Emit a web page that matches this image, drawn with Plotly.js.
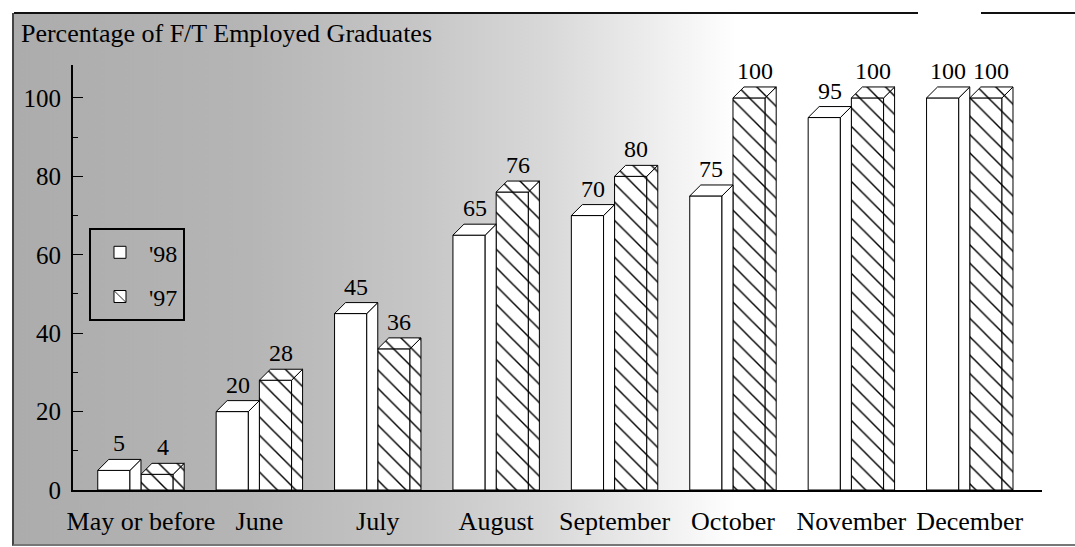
<!DOCTYPE html>
<html>
<head>
<meta charset="utf-8">
<script src="https://cdn.plot.ly/plotly-3.0.1.min.js"></script>
<style>
  html, body { margin: 0; padding: 0; background: #ffffff; }
  #wrap { position: relative; width: 1075px; height: 547px; overflow: hidden; }
  #bg {
    position: absolute; left: 12px; top: 13px; width: 1063px; height: 531px;
    background:
      linear-gradient(to right, #acacac 0%, #b5b5b5 22%, #c6c6c6 38%, #d8d8d8 50%, #ededed 60%, #ffffff 68%, #ffffff 100%);
    border-left: 2px solid #444;
    border-bottom: 2px solid #777;
  }
  #topline { position: absolute; left: 14px; top: 12px; width: 904px; height: 2px; background: #111; }
  #topline2 { position: absolute; left: 981px; top: 12px; width: 94px; height: 2px; background: #111; }
  #chart { position: absolute; left: 0; top: 0; width: 1075px; height: 547px; }
</style>
</head>
<body>
<div id="wrap">
  <div id="bg"></div>
  <div id="topline"></div>
  <div id="topline2"></div>
  <div id="chart"></div>
</div>
<script>
// ---- data ----
const categories = ['May or before', 'June', 'July', 'August', 'September', 'October', 'November', 'December'];
const values98 = [5, 20, 45, 65, 70, 75, 95, 100];
const values97 = [4, 28, 36, 76, 80, 100, 100, 100];
const seriesNames = ["'98", "'97"];
const yTicks = [0, 20, 40, 60, 80, 100];

// ---- geometry (data units) ----
const idx = categories.map((_, i) => i);
const W = 0.272;          // bar front width
const OFF98 = -0.365;     // offset of '98 bar
const OFF97 = 0.0;        // offset of '97 bar
const DX = 0.093;         // depth in x
const DY = 2.8;           // depth in y

const FONT = 'Liberation Serif, Times New Roman, serif';
const hatch = { shape: '\\', fgcolor: '#000000', bgcolor: '#ffffff', size: 13, solidity: 0.11 };

function faces(vals, off) {
  const sx = [], sy = [], tx = [], ty = [];
  vals.forEach((v, i) => {
    const x0 = i + off, x1 = i + off + W;
    sx.push(x1, x1, x1 + DX, x1 + DX, x1, null);
    sy.push(0, v, v + DY, 0, 0, null);
    tx.push(x0, x0 + DX, x1 + DX, x1, x0, null);
    ty.push(v, v + DY, v + DY, v, v, null);
  });
  return { sx, sy, tx, ty };
}

const f98 = faces(values98, OFF98);
const f97 = faces(values97, OFF97);

const lineStyle = { color: '#000000', width: 1 };

const traces = [
  {
    type: 'bar', name: seriesNames[0], x: idx, y: values98, width: W, offset: OFF98,
    marker: { color: '#ffffff', line: lineStyle }, hoverinfo: 'skip', legendgroup: 'a'
  },
  {
    type: 'bar', name: seriesNames[1], x: idx, y: values97, width: W, offset: OFF97,
    marker: { color: '#ffffff', pattern: hatch, line: lineStyle }, hoverinfo: 'skip', legendgroup: 'b'
  },
  { type: 'scatter', mode: 'lines', x: f98.sx, y: f98.sy, fill: 'toself', fillcolor: '#ffffff',
    line: lineStyle, showlegend: false, hoverinfo: 'skip' },
  { type: 'scatter', mode: 'lines', x: f98.tx, y: f98.ty, fill: 'toself', fillcolor: '#ffffff',
    line: lineStyle, showlegend: false, hoverinfo: 'skip' },
  { type: 'scatter', mode: 'lines', x: f97.sx, y: f97.sy, fill: 'toself', fillcolor: '#ffffff',
    fillpattern: hatch, line: lineStyle, showlegend: false, hoverinfo: 'skip' },
  { type: 'scatter', mode: 'lines', x: f97.tx, y: f97.ty, fill: 'toself', fillcolor: '#ffffff',
    fillpattern: hatch, line: lineStyle, showlegend: false, hoverinfo: 'skip' }
];

const annotations = [];
values98.forEach((v, i) => {
  annotations.push({ x: i + OFF98 + (W + DX) / 2, y: v, xref: 'x', yref: 'y', text: String(v),
    showarrow: false, yanchor: 'bottom', yshift: 12, font: { family: FONT, size: 24, color: '#000' } });
});
values97.forEach((v, i) => {
  annotations.push({ x: i + OFF97 + (W + DX) / 2, y: v, xref: 'x', yref: 'y', text: String(v),
    showarrow: false, yanchor: 'bottom', yshift: 12, font: { family: FONT, size: 24, color: '#000' } });
});

const layout = {
  width: 1075, height: 547,
  paper_bgcolor: 'rgba(0,0,0,0)', plot_bgcolor: 'rgba(0,0,0,0)',
  margin: { l: 73, r: 33, t: 65, b: 57 },
  barmode: 'overlay',
  font: { family: FONT, color: '#000' },
  title: { text: 'Percentage of F/T Employed Graduates', xref: 'container', yref: 'container',
    x: 0.0195, xanchor: 'left', y: 0.94, yanchor: 'middle', font: { family: FONT, size: 26, color: '#000' } },
  xaxis: {
    range: [-0.574, 7.61], tickvals: idx, ticktext: categories, ticks: '',
    showline: true, linecolor: '#000', linewidth: 2, showgrid: false, zeroline: false,
    tickfont: { family: FONT, size: 26, color: '#000' }, ticklabelstandoff: 7, fixedrange: true
  },
  yaxis: {
    range: [0, 108.4], tickvals: yTicks, ticks: 'inside', ticklen: 10, tickwidth: 1, tickcolor: '#000',
    minor: { dtick: 10, ticks: 'inside', ticklen: 5, tickcolor: '#000', tickwidth: 1, showgrid: false },
    showline: true, linecolor: '#000', linewidth: 2, showgrid: false, zeroline: false,
    tickfont: { family: FONT, size: 25, color: '#000' }, ticklabelstandoff: 5, fixedrange: true
  },
  legend: {
    x: 0.0165, xanchor: 'left', y: 0.616, yanchor: 'top',
    bgcolor: 'rgba(0,0,0,0)', bordercolor: '#000', borderwidth: 2,
    font: { family: FONT, size: 24, color: '#000' }, traceorder: 'grouped', tracegroupgap: 10,
    entrywidth: 100, itemwidth: 48
  },
  showlegend: true,
  annotations: annotations
};

Plotly.newPlot('chart', traces, layout, { displayModeBar: false, staticPlot: true });
</script>
</body>
</html>
